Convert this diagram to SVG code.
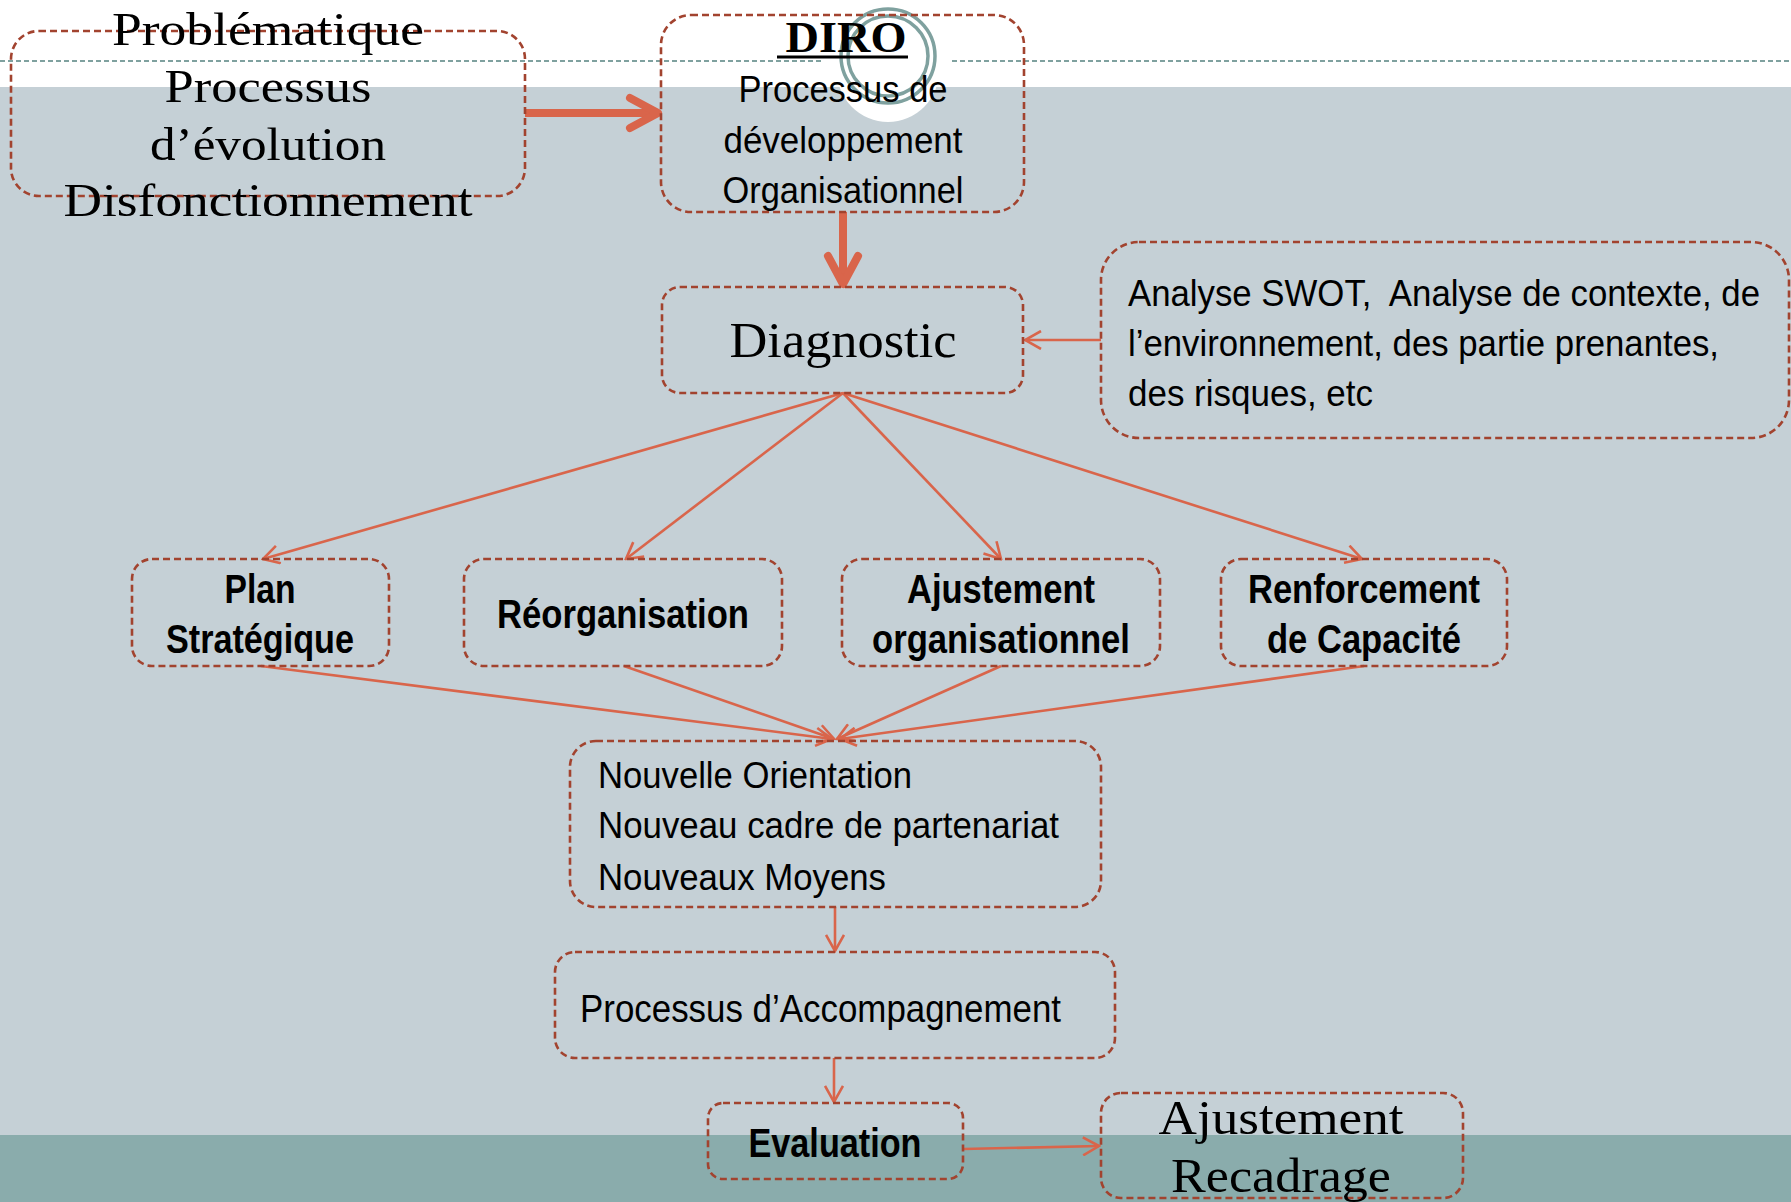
<svg xmlns="http://www.w3.org/2000/svg" width="1791" height="1202" viewBox="0 0 1791 1202">
  <style>
    .box { fill: none; stroke: #A2432F; stroke-width: 2.6; stroke-dasharray: 7 4; }
    .serif { font-family: "Liberation Serif", "Times New Roman", serif; fill: #000; }
    .sans { font-family: "Liberation Sans Narrow", "Liberation Sans", Arial, sans-serif; fill: #000; }
    .bold { font-weight: bold; }
    .mid { text-anchor: middle; }
    .conn { fill: none; stroke: #D9654B; stroke-width: 2.6; }
    .conn-thick { fill: none; stroke: #D9654B; stroke-width: 8; }
  </style>
  <defs>
    <marker id="arrow-open" viewBox="0 0 20 20" refX="18" refY="10" markerWidth="20" markerHeight="20" markerUnits="userSpaceOnUse" orient="auto">
      <path d="M2,1 L18,10 L2,19" fill="none" stroke="#D9654B" stroke-width="2.6" stroke-linejoin="miter"/>
    </marker>
    <marker id="arrow-thick" viewBox="0 0 40 40" refX="31" refY="20" markerWidth="40" markerHeight="40" markerUnits="userSpaceOnUse" orient="auto">
      <path d="M6,5 L34,20 L6,35" fill="none" stroke="#D9654B" stroke-width="8" stroke-linecap="round" stroke-linejoin="round"/>
    </marker>
  </defs>

  <!-- page background -->
  <g id="background">
    <rect x="0" y="0" width="1791" height="1202" fill="#FFFFFF"/>
    <rect x="0" y="87" width="1791" height="1048" fill="#C5D0D6"/>
    <rect x="0" y="1135" width="1791" height="67" fill="#8AACAC"/>
    <line x1="0" y1="61" x2="822" y2="61" stroke="#7FA19F" stroke-width="2" stroke-dasharray="5 3"/>
    <line x1="952" y1="61" x2="1791" y2="61" stroke="#7FA19F" stroke-width="2" stroke-dasharray="5 3"/>
    <circle cx="888" cy="71" r="51" fill="#FFFFFF"/>
    <circle cx="888" cy="56" r="47" fill="none" stroke="#7FA19F" stroke-width="3.5"/>
    <circle cx="888" cy="56" r="40" fill="none" stroke="#7FA19F" stroke-width="3.5"/>
  </g>

  <!-- connectors -->
  <g id="connectors">
    <line class="conn-thick" x1="525" y1="113" x2="655" y2="113" marker-end="url(#arrow-thick)"/>
    <line class="conn-thick" x1="843" y1="212" x2="843" y2="281" marker-end="url(#arrow-thick)"/>
    <line class="conn" x1="1101" y1="340" x2="1025" y2="340" marker-end="url(#arrow-open)"/>
    <line class="conn" x1="843" y1="393" x2="263" y2="559" marker-end="url(#arrow-open)"/>
    <line class="conn" x1="843" y1="393" x2="626" y2="559" marker-end="url(#arrow-open)"/>
    <line class="conn" x1="843" y1="393" x2="1001" y2="559" marker-end="url(#arrow-open)"/>
    <line class="conn" x1="843" y1="393" x2="1362" y2="559" marker-end="url(#arrow-open)"/>
    <line class="conn" x1="261" y1="666" x2="832" y2="739" marker-end="url(#arrow-open)"/>
    <line class="conn" x1="624" y1="666" x2="834" y2="739" marker-end="url(#arrow-open)"/>
    <line class="conn" x1="1001" y1="666" x2="837" y2="739" marker-end="url(#arrow-open)"/>
    <line class="conn" x1="1364" y1="666" x2="840" y2="739" marker-end="url(#arrow-open)"/>
    <line class="conn" x1="835" y1="907" x2="835" y2="951" marker-end="url(#arrow-open)"/>
    <line class="conn" x1="834" y1="1058" x2="834" y2="1102" marker-end="url(#arrow-open)"/>
    <line class="conn" x1="963" y1="1149" x2="1099" y2="1146" marker-end="url(#arrow-open)"/>
  </g>

  <g id="node-problematique">
    <rect class="box" x="11" y="31" width="514" height="165" rx="28"/>
    <text class="serif mid" x="268" y="45" font-size="46" textLength="312" lengthAdjust="spacingAndGlyphs">Problématique</text>
    <text class="serif mid" x="268" y="102" font-size="46" textLength="207" lengthAdjust="spacingAndGlyphs">Processus</text>
    <text class="serif mid" x="268" y="160" font-size="46" textLength="236" lengthAdjust="spacingAndGlyphs">d’évolution</text>
    <text class="serif mid" x="268" y="216" font-size="46" textLength="409" lengthAdjust="spacingAndGlyphs">Disfonctionnement</text>
  </g>

  <g id="node-diro">
    <rect class="box" x="661" y="15" width="363" height="197" rx="30"/>
    <text class="serif bold mid" x="846" y="52" font-size="44" textLength="121" lengthAdjust="spacingAndGlyphs">DIRO</text>
    <line x1="777" y1="57" x2="908" y2="57" stroke="#000" stroke-width="3"/>
    <text class="sans mid" x="843" y="102" font-size="37" textLength="209" lengthAdjust="spacingAndGlyphs">Processus de</text>
    <text class="sans mid" x="843" y="153" font-size="37" textLength="239" lengthAdjust="spacingAndGlyphs">développement</text>
    <text class="sans mid" x="843" y="203" font-size="37" textLength="241" lengthAdjust="spacingAndGlyphs">Organisationnel</text>
  </g>

  <g id="node-diagnostic">
    <rect class="box" x="662" y="287" width="361" height="106" rx="18"/>
    <text class="serif mid" x="843" y="357" font-size="50" textLength="227" lengthAdjust="spacingAndGlyphs">Diagnostic</text>
  </g>

  <g id="node-analyse">
    <rect class="box" x="1101" y="242" width="688" height="196" rx="38"/>
    <text class="sans" x="1128" y="306" font-size="36" textLength="632" lengthAdjust="spacingAndGlyphs">Analyse SWOT,&#160; Analyse de contexte, de</text>
    <text class="sans" x="1128" y="356" font-size="36" textLength="591" lengthAdjust="spacingAndGlyphs">l’environnement, des partie prenantes,</text>
    <text class="sans" x="1128" y="406" font-size="36" textLength="245" lengthAdjust="spacingAndGlyphs">des risques, etc</text>
  </g>

  <g id="node-plan">
    <rect class="box" x="132" y="559" width="257" height="107" rx="20"/>
    <text class="sans bold mid" x="260" y="603" font-size="41" textLength="71" lengthAdjust="spacingAndGlyphs">Plan</text>
    <text class="sans bold mid" x="260" y="653" font-size="41" textLength="188" lengthAdjust="spacingAndGlyphs">Stratégique</text>
  </g>

  <g id="node-reorganisation">
    <rect class="box" x="464" y="559" width="318" height="107" rx="20"/>
    <text class="sans bold mid" x="623" y="628" font-size="41" textLength="252" lengthAdjust="spacingAndGlyphs">Réorganisation</text>
  </g>

  <g id="node-ajustement-org">
    <rect class="box" x="842" y="559" width="318" height="107" rx="20"/>
    <text class="sans bold mid" x="1001" y="603" font-size="41" textLength="188" lengthAdjust="spacingAndGlyphs">Ajustement</text>
    <text class="sans bold mid" x="1001" y="653" font-size="41" textLength="258" lengthAdjust="spacingAndGlyphs">organisationnel</text>
  </g>

  <g id="node-renforcement">
    <rect class="box" x="1221" y="559" width="286" height="107" rx="20"/>
    <text class="sans bold mid" x="1364" y="603" font-size="41" textLength="232" lengthAdjust="spacingAndGlyphs">Renforcement</text>
    <text class="sans bold mid" x="1364" y="653" font-size="41" textLength="194" lengthAdjust="spacingAndGlyphs">de Capacité</text>
  </g>

  <g id="node-nouvelle">
    <rect class="box" x="570" y="741" width="531" height="166" rx="26"/>
    <text class="sans" x="598" y="788" font-size="37" textLength="314" lengthAdjust="spacingAndGlyphs">Nouvelle Orientation</text>
    <text class="sans" x="598" y="838" font-size="37" textLength="461" lengthAdjust="spacingAndGlyphs">Nouveau cadre de partenariat</text>
    <text class="sans" x="598" y="890" font-size="37" textLength="288" lengthAdjust="spacingAndGlyphs">Nouveaux Moyens</text>
  </g>

  <g id="node-accompagnement">
    <rect class="box" x="555" y="952" width="560" height="106" rx="20"/>
    <text class="sans" x="580" y="1022" font-size="39" textLength="481" lengthAdjust="spacingAndGlyphs">Processus d’Accompagnement</text>
  </g>

  <g id="node-evaluation">
    <rect class="box" x="708" y="1103" width="255" height="76" rx="15"/>
    <text class="sans bold mid" x="835" y="1157" font-size="40" textLength="173" lengthAdjust="spacingAndGlyphs">Evaluation</text>
  </g>

  <g id="node-recadrage">
    <rect class="box" x="1101" y="1093" width="362" height="105" rx="20"/>
    <text class="serif mid" x="1281" y="1134" font-size="48" textLength="245" lengthAdjust="spacingAndGlyphs">Ajustement</text>
    <text class="serif mid" x="1281" y="1192" font-size="48" textLength="220" lengthAdjust="spacingAndGlyphs">Recadrage</text>
  </g>
</svg>
